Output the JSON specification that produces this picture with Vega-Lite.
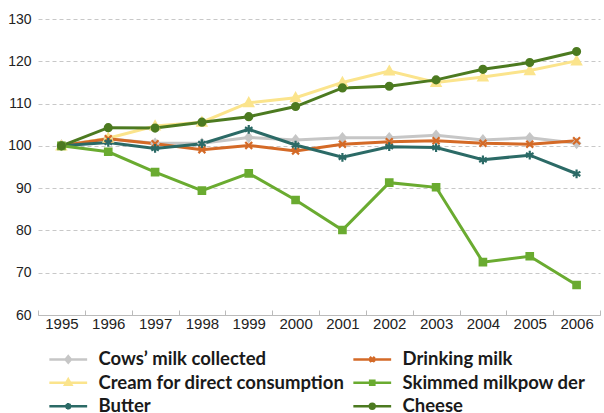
{
  "$schema": "https://vega.github.io/schema/vega-lite/v6.json",
  "width": 562,
  "height": 296,
  "autosize": "none",
  "padding": {"left": 38, "top": 19, "right": 4, "bottom": 98},
  "background": "white",
  "config": {"view": {"stroke": null}},
  "datasets": {
    "d": [
      {"year": "1995", "series": "Cows’ milk collected", "value": 100.2},
      {"year": "1996", "series": "Cows’ milk collected", "value": 101.7},
      {"year": "1997", "series": "Cows’ milk collected", "value": 100.6},
      {"year": "1998", "series": "Cows’ milk collected", "value": 100.6},
      {"year": "1999", "series": "Cows’ milk collected", "value": 102.0},
      {"year": "2000", "series": "Cows’ milk collected", "value": 101.4},
      {"year": "2001", "series": "Cows’ milk collected", "value": 101.9},
      {"year": "2002", "series": "Cows’ milk collected", "value": 101.9},
      {"year": "2003", "series": "Cows’ milk collected", "value": 102.5},
      {"year": "2004", "series": "Cows’ milk collected", "value": 101.4},
      {"year": "2005", "series": "Cows’ milk collected", "value": 101.9},
      {"year": "2006", "series": "Cows’ milk collected", "value": 100.6},

      {"year": "1995", "series": "Cream for direct consumption", "value": 100.0},
      {"year": "1996", "series": "Cream for direct consumption", "value": 101.8},
      {"year": "1997", "series": "Cream for direct consumption", "value": 104.7},
      {"year": "1998", "series": "Cream for direct consumption", "value": 105.6},
      {"year": "1999", "series": "Cream for direct consumption", "value": 110.2},
      {"year": "2000", "series": "Cream for direct consumption", "value": 111.4},
      {"year": "2001", "series": "Cream for direct consumption", "value": 115.0},
      {"year": "2002", "series": "Cream for direct consumption", "value": 117.7},
      {"year": "2003", "series": "Cream for direct consumption", "value": 115.0},
      {"year": "2004", "series": "Cream for direct consumption", "value": 116.3},
      {"year": "2005", "series": "Cream for direct consumption", "value": 117.8},
      {"year": "2006", "series": "Cream for direct consumption", "value": 120.1},

      {"year": "1995", "series": "Drinking milk", "value": 100.0},
      {"year": "1996", "series": "Drinking milk", "value": 101.7},
      {"year": "1997", "series": "Drinking milk", "value": 100.5},
      {"year": "1998", "series": "Drinking milk", "value": 99.1},
      {"year": "1999", "series": "Drinking milk", "value": 100.1},
      {"year": "2000", "series": "Drinking milk", "value": 98.8},
      {"year": "2001", "series": "Drinking milk", "value": 100.4},
      {"year": "2002", "series": "Drinking milk", "value": 101.0},
      {"year": "2003", "series": "Drinking milk", "value": 101.2},
      {"year": "2004", "series": "Drinking milk", "value": 100.6},
      {"year": "2005", "series": "Drinking milk", "value": 100.4},
      {"year": "2006", "series": "Drinking milk", "value": 101.2},

      {"year": "1995", "series": "Butter", "value": 100.0},
      {"year": "1996", "series": "Butter", "value": 100.8},
      {"year": "1997", "series": "Butter", "value": 99.4},
      {"year": "1998", "series": "Butter", "value": 100.5},
      {"year": "1999", "series": "Butter", "value": 103.9},
      {"year": "2000", "series": "Butter", "value": 100.2},
      {"year": "2001", "series": "Butter", "value": 97.3},
      {"year": "2002", "series": "Butter", "value": 99.8},
      {"year": "2003", "series": "Butter", "value": 99.6},
      {"year": "2004", "series": "Butter", "value": 96.7},
      {"year": "2005", "series": "Butter", "value": 97.8},
      {"year": "2006", "series": "Butter", "value": 93.4},

      {"year": "1995", "series": "Skimmed milkpow der", "value": 100.0},
      {"year": "1996", "series": "Skimmed milkpow der", "value": 98.6},
      {"year": "1997", "series": "Skimmed milkpow der", "value": 93.8},
      {"year": "1998", "series": "Skimmed milkpow der", "value": 89.4},
      {"year": "1999", "series": "Skimmed milkpow der", "value": 93.5},
      {"year": "2000", "series": "Skimmed milkpow der", "value": 87.2},
      {"year": "2001", "series": "Skimmed milkpow der", "value": 80.1},
      {"year": "2002", "series": "Skimmed milkpow der", "value": 91.3},
      {"year": "2003", "series": "Skimmed milkpow der", "value": 90.2},
      {"year": "2004", "series": "Skimmed milkpow der", "value": 72.5},
      {"year": "2005", "series": "Skimmed milkpow der", "value": 73.9},
      {"year": "2006", "series": "Skimmed milkpow der", "value": 67.1},

      {"year": "1995", "series": "Cheese", "value": 100.0},
      {"year": "1996", "series": "Cheese", "value": 104.3},
      {"year": "1997", "series": "Cheese", "value": 104.2},
      {"year": "1998", "series": "Cheese", "value": 105.6},
      {"year": "1999", "series": "Cheese", "value": 106.9},
      {"year": "2000", "series": "Cheese", "value": 109.3},
      {"year": "2001", "series": "Cheese", "value": 113.7},
      {"year": "2002", "series": "Cheese", "value": 114.1},
      {"year": "2003", "series": "Cheese", "value": 115.6},
      {"year": "2004", "series": "Cheese", "value": 118.1},
      {"year": "2005", "series": "Cheese", "value": 119.7},
      {"year": "2006", "series": "Cheese", "value": 122.3}
    ]
  },
  "data": {"name": "d"},
  "encoding": {
    "x": {
      "field": "year", "type": "ordinal",
      "scale": {"type": "band", "paddingInner": 0, "paddingOuter": 0},
      "axis": {
        "title": null, "labelAngle": 0, "labelFont": "Liberation Sans", "labelFontSize": 15,
        "labelColor": "#222222", "labelPadding": 6, "domainColor": "#bbbbbb", "domainWidth": 1,
        "tickColor": "#bbbbbb", "tickBand": "extent", "tickSize": -5, "grid": false
      }
    },
    "y": {
      "field": "value", "type": "quantitative",
      "scale": {"domain": [60, 130], "nice": false, "zero": false},
      "axis": {
        "title": null, "values": [60, 70, 80, 90, 100, 110, 120, 130], "labelFont": "Liberation Sans",
        "labelFontSize": 14, "labelColor": "#222222", "labelPadding": 7, "domain": false, "ticks": false,
        "grid": true, "gridColor": "#c8c8c8", "gridDash": [4, 3], "gridWidth": 1
      }
    }
  },
  "layer": [
    {
      "mark": {"type": "line", "strokeWidth": 3},
      "encoding": {
        "color": {
          "field": "series", "type": "nominal", "legend": null,
          "scale": {
            "domain": ["Cows’ milk collected", "Drinking milk", "Cream for direct consumption", "Skimmed milkpow der", "Butter", "Cheese"],
            "range": ["#c6c6c6", "#d46a27", "#fbe48c", "#6aab30", "#2b6a66", "#4c7a20"]
          }
        }
      }
    },
    {
      "mark": {"type": "point", "filled": true, "opacity": 1, "strokeWidth": 2.2, "size": 85},
      "encoding": {
        "fill": {
          "field": "series", "type": "nominal", "legend": null,
          "scale": {
            "domain": ["Cows’ milk collected", "Drinking milk", "Cream for direct consumption", "Skimmed milkpow der", "Butter", "Cheese"],
            "range": ["#c6c6c6", "#d46a27", "#fbe48c", "#6aab30", "#2b6a66", "#4c7a20"]
          }
        },
        "stroke": {
          "field": "series", "type": "nominal", "legend": null,
          "scale": {
            "domain": ["Cows’ milk collected", "Drinking milk", "Cream for direct consumption", "Skimmed milkpow der", "Butter", "Cheese"],
            "range": ["#c6c6c6", "#d46a27", "#fbe48c", "#6aab30", "#2b6a66", "#4c7a20"]
          }
        },
        "shape": {
          "field": "series", "type": "nominal", "legend": null,
          "scale": {
            "domain": ["Cows’ milk collected", "Drinking milk", "Cream for direct consumption", "Skimmed milkpow der", "Butter", "Cheese"],
            "range": [
              "M0,-0.9L0.75,0L0,0.9L-0.75,0Z",
              "M-0.75,-0.75L0.75,0.75M-0.75,0.75L0.75,-0.75",
              "M0,-0.95L0.95,0.75L-0.95,0.75Z",
              "M-0.7,-0.7H0.7V0.7H-0.7Z",
              "M0,-0.95V0.95M-0.82,-0.47L0.82,0.47M-0.82,0.47L0.82,-0.47",
              "M0.75,0A0.75,0.75,0,1,1,-0.75,0A0.75,0.75,0,1,1,0.75,0Z"
            ]
          }
        }
      }
    },
    {
      "transform": [{"filter": "datum.value > 1000"}],
      "mark": {"type": "point", "filled": true, "opacity": 1},
      "encoding": {
        "fill": {
          "field": "series", "type": "nominal", "title": null,
          "scale": {
            "domain": ["Cows’ milk collected", "Drinking milk", "Cream for direct consumption", "Skimmed milkpow der", "Butter", "Cheese"],
            "range": ["#c6c6c6", "#d46a27", "#fbe48c", "#6aab30", "#2b6a66", "#4c7a20"]
          },
          "legend": {
            "orient": "none", "legendX": 21, "legendY": 331, "columns": 2, "direction": "horizontal",
            "symbolSize": 196, "symbolStrokeWidth": 2.5, "labelOffset": 21, "columnPadding": 3,
            "rowPadding": 4.5, "labelFont": "Lato", "labelFontWeight": "bold", "labelFontSize": 18.5,
            "labelColor": "#1a1a1a", "labelLimit": 400, "padding": 0
          }
        },
        "stroke": {
          "field": "series", "type": "nominal", "title": null,
          "scale": {
            "domain": ["Cows’ milk collected", "Drinking milk", "Cream for direct consumption", "Skimmed milkpow der", "Butter", "Cheese"],
            "range": ["#c6c6c6", "#d46a27", "#fbe48c", "#6aab30", "#2b6a66", "#4c7a20"]
          },
          "legend": {
            "orient": "none", "legendX": 21, "legendY": 331, "columns": 2, "direction": "horizontal",
            "symbolSize": 196, "symbolStrokeWidth": 2.5, "labelOffset": 21, "columnPadding": 3,
            "rowPadding": 4.5, "labelFont": "Lato", "labelFontWeight": "bold", "labelFontSize": 18.5,
            "labelColor": "#1a1a1a", "labelLimit": 400, "padding": 0
          }
        },
        "shape": {
          "field": "series", "type": "nominal", "title": null,
          "scale": {
            "domain": ["Cows’ milk collected", "Drinking milk", "Cream for direct consumption", "Skimmed milkpow der", "Butter", "Cheese"],
            "range": [
              "M-2.7,0H2.7M0,-0.45L0.38,0L0,0.45L-0.38,0Z",
              "M-2.7,0H2.7M-0.35,-0.35L0.35,0.35M-0.35,0.35L0.35,-0.35",
              "M-2.7,0H2.7M0,-0.5L0.45,0.3L-0.45,0.3Z",
              "M-2.7,0H2.7M-0.3,-0.3H0.3V0.3H-0.3Z",
              "M-2.7,0H2.7M0,-0.45V0.45M-0.39,-0.22L0.39,0.22M-0.39,0.22L0.39,-0.22",
              "M-2.7,0H2.7M0.35,0A0.35,0.35,0,1,1,-0.35,0A0.35,0.35,0,1,1,0.35,0Z"
            ]
          },
          "legend": {
            "orient": "none", "legendX": 21, "legendY": 331, "columns": 2, "direction": "horizontal",
            "symbolSize": 196, "symbolStrokeWidth": 2.5, "labelOffset": 21, "columnPadding": 3,
            "rowPadding": 4.5, "labelFont": "Lato", "labelFontWeight": "bold", "labelFontSize": 18.5,
            "labelColor": "#1a1a1a", "labelLimit": 400, "padding": 0
          }
        }
      }
    }
  ],
  "resolve": {"scale": {"color": "independent", "fill": "independent", "stroke": "independent", "shape": "independent"}}
}
